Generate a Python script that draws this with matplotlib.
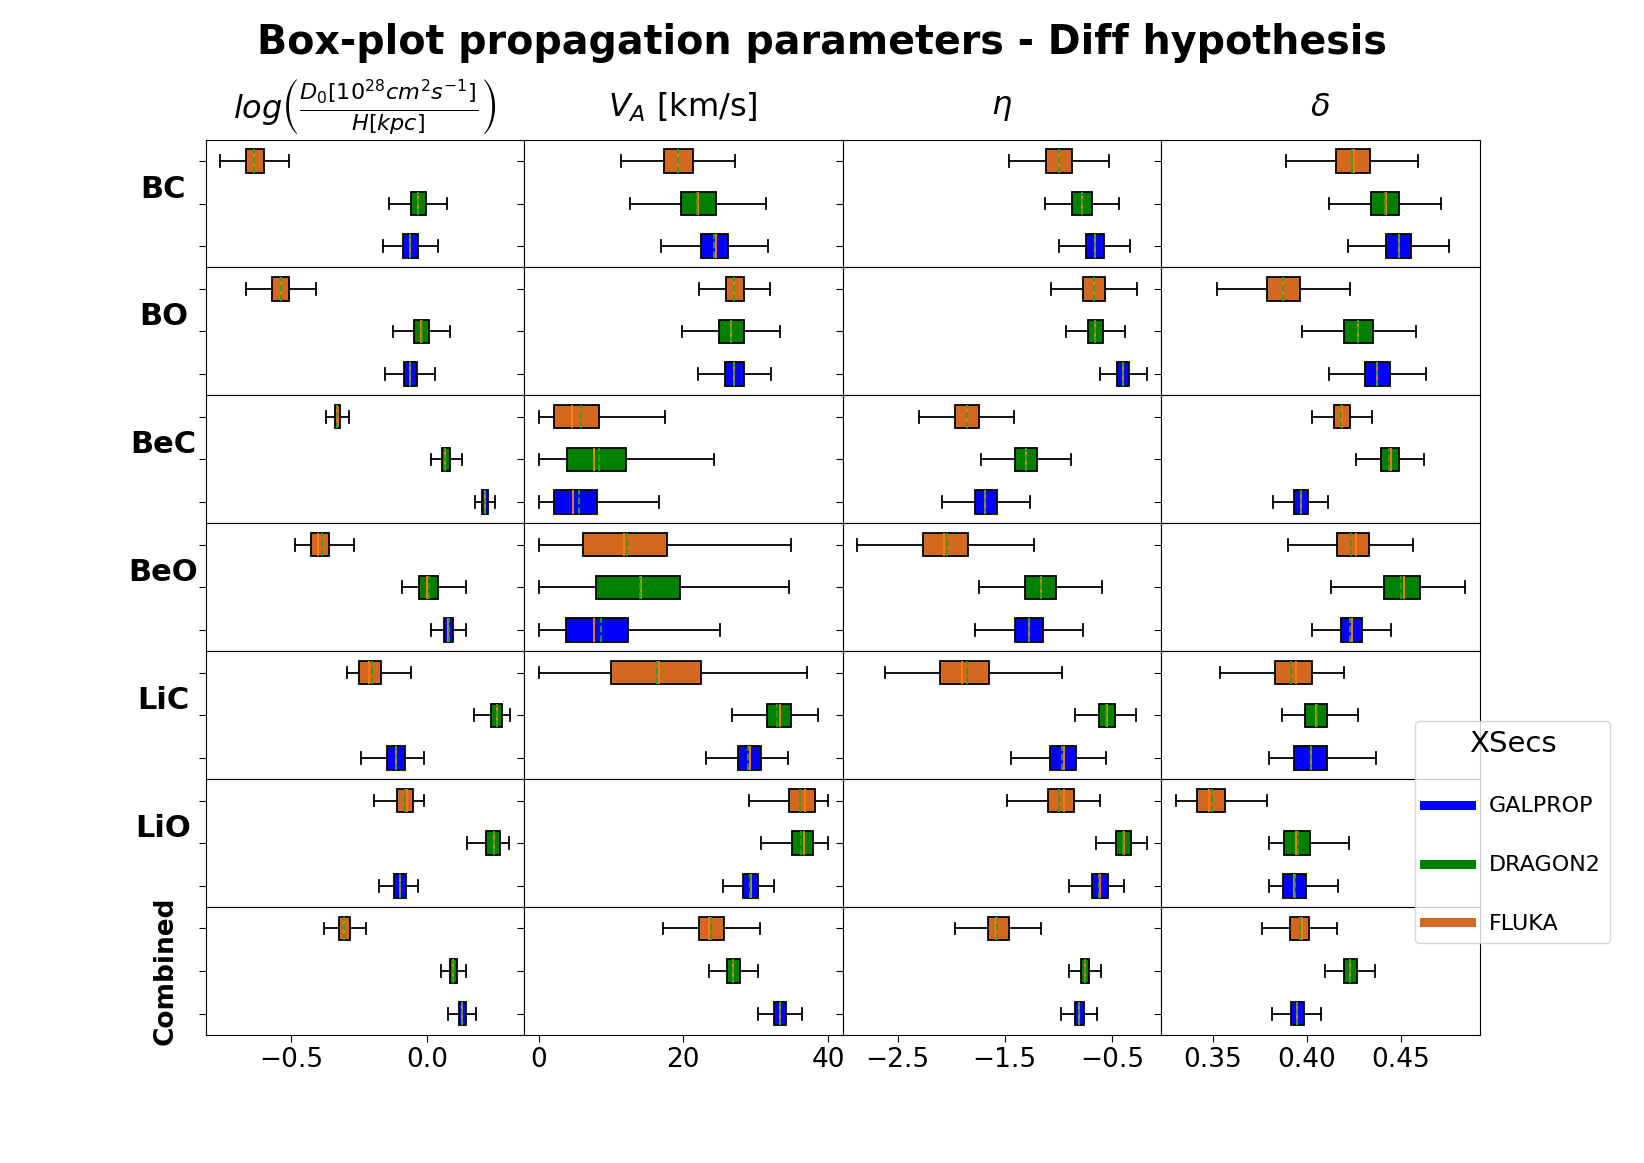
import matplotlib
matplotlib.use("Agg")
import matplotlib.pyplot as plt
from matplotlib.lines import Line2D

# ---------------- data -----------------
rows = ["BC", "BO", "BeC", "BeO", "LiC", "LiO", "Combined"]
sources = ["GALPROP", "DRAGON2", "FLUKA"]
source_colors = ["blue", "green", "chocolate"]
param_titles = [r"$log\left(\frac{D_0[10^{28}cm^2s^{-1}]}{H[kpc]}\right)$",
                r"$V_A$ [km/s]", r"$\eta$", r"$\delta$"]
param_ticks = [[-0.5, 0.0], [0, 20, 40], [-2.5, -1.5, -0.5], [0.35, 0.40, 0.45]]

# each entry: (whislo, q1, median, mean, q3, whishi), rows in order of `rows`
logD_GALPROP = [(-0.162, -0.086, -0.063, -0.063, -0.034, 0.041),
                (-0.155, -0.085, -0.063, -0.063, -0.037, 0.031),
                (0.178, 0.205, 0.214, 0.214, 0.224, 0.253),
                (0.016, 0.064, 0.080, 0.082, 0.098, 0.146),
                (-0.244, -0.147, -0.114, -0.114, -0.080, -0.012),
                (-0.177, -0.119, -0.098, -0.098, -0.076, -0.034),
                (0.079, 0.117, 0.130, 0.130, 0.145, 0.182)]
logD_DRAGON2 = [(-0.139, -0.059, -0.032, -0.032, -0.002, 0.076),
                (-0.125, -0.047, -0.020, -0.018, 0.007, 0.086),
                (0.016, 0.055, 0.069, 0.069, 0.086, 0.129),
                (-0.090, -0.029, 0.001, 0.010, 0.042, 0.146),
                (0.174, 0.236, 0.258, 0.258, 0.279, 0.305),
                (0.147, 0.219, 0.246, 0.246, 0.270, 0.302),
                (0.052, 0.087, 0.098, 0.098, 0.111, 0.146)]
logD_FLUKA = [(-0.762, -0.667, -0.635, -0.635, -0.601, -0.506),
              (-0.666, -0.570, -0.538, -0.538, -0.506, -0.410),
              (-0.372, -0.340, -0.332, -0.330, -0.318, -0.286),
              (-0.485, -0.425, -0.402, -0.387, -0.361, -0.268),
              (-0.295, -0.248, -0.213, -0.203, -0.170, -0.058),
              (-0.194, -0.108, -0.072, -0.082, -0.049, -0.012),
              (-0.380, -0.322, -0.305, -0.305, -0.283, -0.225)]

VA_GALPROP = [(16.96, 22.44, 24.47, 24.29, 26.22, 31.71),
              (22.07, 25.81, 27.05, 27.05, 28.43, 32.17),
              (0.0, 2.17, 4.79, 5.53, 8.02, 16.68),
              (0.0, 3.82, 7.65, 8.66, 12.40, 25.12),
              (23.09, 27.60, 29.17, 28.99, 30.69, 34.42),
              (25.48, 28.29, 29.35, 29.22, 30.28, 32.58),
              (30.28, 32.58, 33.32, 33.32, 34.19, 36.45)]
VA_DRAGON2 = [(12.67, 19.68, 22.03, 21.94, 24.47, 31.47),
              (19.82, 24.88, 26.64, 26.64, 28.39, 33.41),
              (0.0, 3.96, 7.60, 8.39, 12.07, 24.19),
              (0.0, 7.97, 14.19, 13.96, 19.59, 34.65),
              (26.73, 31.52, 33.32, 33.00, 34.84, 38.62),
              (30.78, 34.98, 36.64, 36.31, 37.88, 40.0),
              (23.59, 26.08, 26.91, 26.91, 27.83, 30.28)]
VA_FLUKA = [(11.43, 17.28, 19.26, 19.26, 21.29, 27.19),
            (22.17, 25.85, 27.05, 27.05, 28.39, 32.03),
            (0.0, 2.12, 4.65, 5.85, 8.29, 17.42),
            (0.0, 6.08, 11.75, 12.21, 17.79, 34.93),
            (0.0, 9.95, 16.59, 16.41, 22.44, 37.10),
            (29.12, 34.56, 36.82, 36.17, 38.20, 40.0),
            (17.14, 22.21, 23.50, 23.87, 25.67, 30.65)]

eta_GALPROP = [(-0.992, -0.746, -0.662, -0.662, -0.575, -0.329),
               (-0.615, -0.450, -0.394, -0.394, -0.338, -0.176),
               (-2.089, -1.783, -1.681, -1.681, -1.575, -1.269),
               (-1.783, -1.403, -1.276, -1.276, -1.145, -0.768),
               (-1.441, -1.076, -0.949, -0.964, -0.833, -0.553),
               (-0.899, -0.690, -0.612, -0.621, -0.540, -0.385),
               (-0.974, -0.849, -0.808, -0.808, -0.765, -0.637)]
eta_DRAGON2 = [(-1.126, -0.868, -0.780, -0.780, -0.690, -0.431),
               (-0.927, -0.724, -0.656, -0.656, -0.584, -0.379),
               (-1.721, -1.407, -1.301, -1.301, -1.195, -0.880),
               (-1.737, -1.307, -1.164, -1.164, -1.020, -0.590),
               (-0.843, -0.625, -0.544, -0.556, -0.472, -0.279),
               (-0.653, -0.460, -0.388, -0.400, -0.326, -0.176),
               (-0.899, -0.793, -0.755, -0.755, -0.718, -0.603)]
eta_FLUKA = [(-1.463, -1.114, -0.995, -0.995, -0.877, -0.525),
             (-1.073, -0.771, -0.668, -0.668, -0.565, -0.263),
             (-2.298, -1.967, -1.855, -1.852, -1.743, -1.413),
             (-2.880, -2.263, -2.067, -2.039, -1.846, -1.226),
             (-2.618, -2.107, -1.896, -1.852, -1.650, -0.970),
             (-1.475, -1.101, -0.949, -0.992, -0.852, -0.615),
             (-1.961, -1.659, -1.584, -1.572, -1.460, -1.160)]

delta_GALPROP = [(0.4222, 0.4421, 0.4492, 0.4492, 0.4558, 0.4758),
                 (0.4117, 0.4311, 0.4377, 0.4377, 0.4444, 0.4638),
                 (0.3822, 0.3931, 0.3970, 0.3970, 0.4007, 0.4115),
                 (0.4027, 0.4183, 0.4240, 0.4233, 0.4293, 0.4449),
                 (0.3799, 0.3933, 0.4023, 0.4023, 0.4110, 0.4368),
                 (0.3799, 0.3876, 0.3931, 0.3940, 0.3995, 0.4169),
                 (0.3817, 0.3915, 0.3948, 0.3948, 0.3984, 0.4078)]
delta_DRAGON2 = [(0.4117, 0.4343, 0.4421, 0.4417, 0.4494, 0.4718),
                 (0.3975, 0.4201, 0.4275, 0.4272, 0.4355, 0.4581),
                 (0.4261, 0.4398, 0.4448, 0.4439, 0.4490, 0.4627),
                 (0.4128, 0.4410, 0.4517, 0.4501, 0.4602, 0.4844),
                 (0.3867, 0.3993, 0.4050, 0.4057, 0.4108, 0.4275),
                 (0.3799, 0.3881, 0.3943, 0.3956, 0.4020, 0.4226),
                 (0.4099, 0.4197, 0.4231, 0.4231, 0.4266, 0.4364)]
delta_FLUKA = [(0.3888, 0.4155, 0.4250, 0.4240, 0.4336, 0.4595),
               (0.3522, 0.3787, 0.3876, 0.3876, 0.3966, 0.4231),
               (0.4028, 0.4147, 0.4188, 0.4183, 0.4229, 0.4346),
               (0.3902, 0.4160, 0.4261, 0.4236, 0.4334, 0.4568),
               (0.3538, 0.3831, 0.3943, 0.3917, 0.4028, 0.4201),
               (0.3302, 0.3414, 0.3480, 0.3494, 0.3567, 0.3787),
               (0.3762, 0.3911, 0.3975, 0.3963, 0.4012, 0.4160)]

param_data = [
    [logD_GALPROP, logD_DRAGON2, logD_FLUKA],
    [VA_GALPROP, VA_DRAGON2, VA_FLUKA],
    [eta_GALPROP, eta_DRAGON2, eta_FLUKA],
    [delta_GALPROP, delta_DRAGON2, delta_FLUKA],
]

# ---------------- plot -----------------
fig, axes = plt.subplots(len(rows), 4, figsize=(16.44, 11.63), dpi=100,
                         sharex="col")
fig.subplots_adjust(left=0.125, right=0.9, bottom=0.11, top=0.88,
                    hspace=0, wspace=0)


def make_stats(t):
    lo, q1, med, mean, q3, hi = t
    return dict(whislo=lo, q1=q1, med=med, mean=mean, q3=q3, whishi=hi,
                fliers=[])


for c in range(4):
    for r in range(len(rows)):
        ax = axes[r, c]
        stats = [make_stats(param_data[c][s][r]) for s in range(3)]
        kw = dict(positions=[1, 2, 3], widths=0.55, patch_artist=True,
                  showmeans=True, meanline=True, showfliers=False,
                  boxprops=dict(edgecolor="black", linewidth=1.3),
                  whiskerprops=dict(color="black", linewidth=1.3),
                  capprops=dict(color="black", linewidth=1.3),
                  medianprops=dict(color="#ff7f0e", linewidth=1.3),
                  meanprops=dict(color="#2ca02c", linestyle="--", linewidth=1.3))
        try:
            bp = ax.bxp(stats, orientation="horizontal", **kw)
        except TypeError:
            bp = ax.bxp(stats, vert=False, **kw)
        for patch, col in zip(bp["boxes"], source_colors):
            patch.set_facecolor(col)
        ax.set_yticklabels([])
        ax.tick_params(axis="y", length=5)
        if r < len(rows) - 1:
            ax.tick_params(axis="x", bottom=False, labelbottom=False)
        else:
            ax.set_xticks(param_ticks[c])
            ax.tick_params(axis="x", labelsize=19, length=5)
        if r == 0:
            ax.text(0.5, 1.25, param_titles[c], transform=ax.transAxes,
                    ha="center", va="center", fontsize=23)
        if c == 0:
            if rows[r] == "Combined":
                ax.set_ylabel(rows[r], fontsize=19, fontweight="bold",
                              rotation=90)
                ax.yaxis.set_label_coords(-0.083, 0.5)
            else:
                ax.set_ylabel(rows[r], fontsize=22, fontweight="bold",
                              rotation=0)
                ax.yaxis.set_label_coords(-0.132, 0.5)

fig.suptitle("Box-plot propagation parameters - Diff hypothesis",
             fontsize=28.5, fontweight="bold")

handles = [Line2D([0], [0], color=col, lw=6.5) for col in source_colors]
fig.legend(handles, sources, title="XSecs", loc="upper left",
           bbox_to_anchor=(0.861, 0.3803), borderaxespad=0,
           fontsize=16, title_fontsize=21, labelspacing=1.75,
           handlelength=2.1)

fig.savefig("out.png", dpi=100)
